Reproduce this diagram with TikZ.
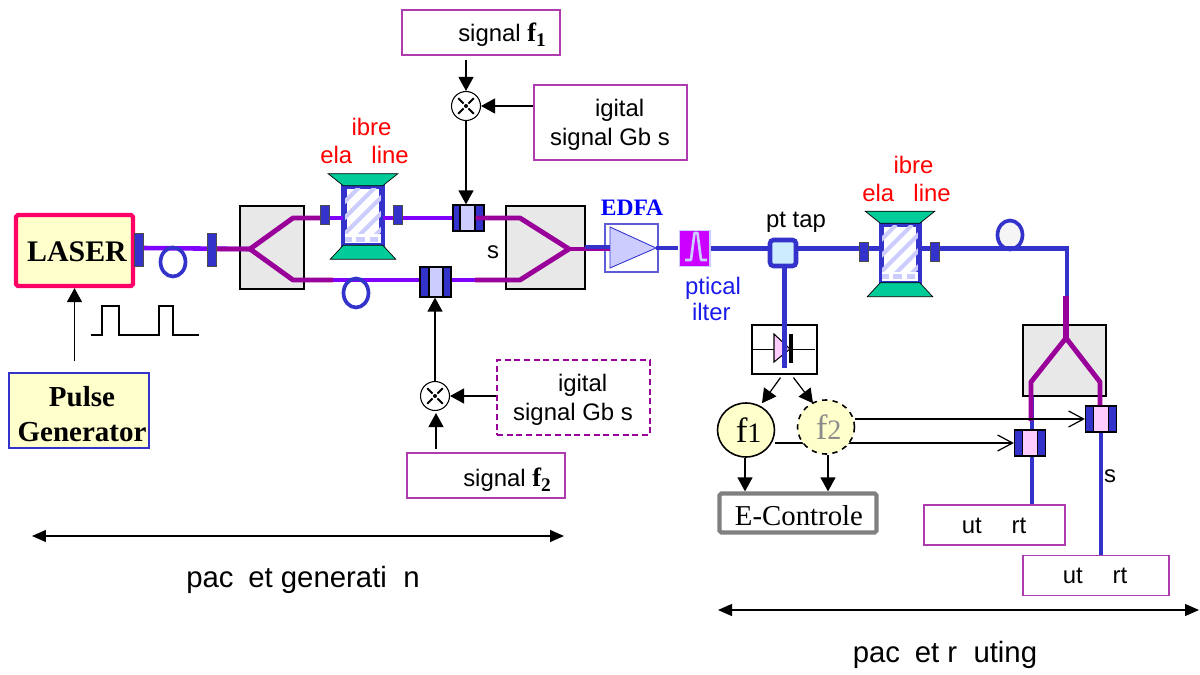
\documentclass[tikz,border=0pt]{standalone}
\usepackage{fontspec}
\setmainfont{Liberation Sans}
\newfontfamily\timesfont{Liberation Serif}
\usetikzlibrary{arrows.meta,shapes.geometric,calc}
\definecolor{FibBlue}{RGB}{51,51,204}
\definecolor{FibViolet}{RGB}{128,0,255}
\definecolor{FibPurple}{RGB}{153,0,153}
\definecolor{BoxYellow}{RGB}{255,255,204}
\definecolor{BoxGray}{RGB}{232,232,232}
\definecolor{ModLilac}{RGB}{204,204,255}
\definecolor{ModPink}{RGB}{255,204,255}
\definecolor{DelayGreen}{RGB}{0,204,153}
\definecolor{BoxEdge}{RGB}{175,60,175}
\definecolor{LaserEdge}{RGB}{255,0,102}
\definecolor{FilterPink}{RGB}{204,0,255}
\definecolor{TapCyan}{RGB}{204,236,255}
\definecolor{LabelBlue}{RGB}{26,26,235}

\begin{document}
\begin{tikzpicture}[x=0.02cm,y=-0.02cm,
  sig/.style={-{Triangle[length=0.28cm,width=0.3cm]},line width=0.7pt},
  barb/.style={-{Straight Barb[length=0.3cm,width=0.32cm]},line width=0.7pt},
  txt/.style={font=\fontsize{13.6}{16.5}\selectfont,inner sep=0,align=center},
  stxt/.style={font=\fontsize{16.4}{19.8}\selectfont\timesfont,inner sep=0,align=center},
  sigbox/.style={draw=BoxEdge,line width=0.8pt,fill=white,inner sep=0,minimum width=3.16cm,minimum height=0.9cm},
  digbox/.style={sigbox,minimum width=3.06cm,minimum height=1.5cm},
  outbox/.style={sigbox,minimum height=0.8cm},
  splitbox/.style={draw=black,line width=0.9pt,fill=BoxGray,inner sep=0},
  connv/.style={draw=black!70,line width=0.4pt,fill=FibBlue,inner sep=0,minimum width=0.18cm,minimum height=0.66cm},
  connw/.style={connv,minimum height=0.38cm},
  modout/.style={draw=black,line width=0.7pt,fill=FibBlue,inner sep=0,minimum width=0.62cm,minimum height=0.52cm},
  modin/.style={draw=black,line width=0.7pt,inner sep=0,minimum width=0.3cm,minimum height=0.52cm},
  mixer/.style={circle,draw=black,line width=0.6pt,fill=white,inner sep=0,minimum size=0.58cm},
  delay/.style={draw=FibBlue,line width=2pt,inner sep=0,minimum width=0.72cm,minimum height=1.12cm},
  freq/.style={ellipse,draw=black,line width=0.9pt,fill=BoxYellow,inner sep=0,minimum width=1.14cm,
               minimum height=1.08cm,font=\fontsize{20}{22}\selectfont\timesfont},
  loopf/.style={ellipse,draw=FibBlue,line width=2.1pt,inner sep=0,minimum width=0.5cm,minimum height=0.58cm},
  fibv/.style={draw=FibViolet,line width=2.6pt},
  fibp/.style={draw=FibPurple,line width=2.8pt,line join=round},
  fibb/.style={draw=FibBlue,line width=2.8pt},
  span/.style={{Triangle[length=0.28cm,width=0.24cm]}-{Triangle[length=0.28cm,width=0.24cm]},line width=0.7pt},
]
\useasboundingbox (0,0) rectangle (1200,675);

\node[splitbox,minimum width=1.28cm,minimum height=1.66cm] (splita) at (272,247.5) {};
\node[splitbox,minimum width=1.58cm,minimum height=1.66cm] (splitb) at (545.5,247.5) {};
\node[splitbox,minimum width=1.66cm,minimum height=1.42cm] (splitc) at (1064.5,360.5) {};

\coordinate (ya) at (250,249);
\coordinate (yau) at (293,218);
\coordinate (yal) at (293,280);
\coordinate (yb) at (569,249);
\coordinate (ybu) at (520,218);
\coordinate (ybl) at (520,280);
\coordinate (yc) at (1066,338);
\coordinate (ycl) at (1031,382);
\coordinate (ycr) at (1100,382);
\coordinate (bend) at (1067,248.5);
\coordinate (edfain) at (610,248);
\coordinate (edfaout) at (656,248);
\coordinate (pdend) at (784.5,368);

\node[draw=FibBlue!80,line width=0.6pt,inner sep=0,minimum width=1.06cm,minimum height=0.96cm] (edfabox) at (631.5,248) {};
\fill[ModLilac,draw=FibBlue,line width=0.5pt] (610,227) -- (edfaout) -- (610,268) -- cycle;
\node[fill=ModLilac,inner sep=0,minimum width=0.64cm,minimum height=0.76cm] (filterbg) at (694.5,248.5) {};
\node[fill=FilterPink,inner sep=0,minimum width=0.58cm,minimum height=0.7cm] (filter) at (694.5,248.5) {};
\draw[ModLilac,line width=1.5pt,line join=round] (685,260) -- (691,260) -- (694.5,233) -- (697.5,233) -- (701,260) -- (707,260);

\node[delay,fill=white] (dla) at (363,215.5) {};
\node[delay,fill=white] (dlb) at (900,253) {};
\foreach \dl in {dla,dlb}{
  \begin{scope}
    \clip (\dl.north west) rectangle (\dl.south east);
    \foreach \dx in {-64,-48,...,64}
      \draw[ModLilac,line width=2.4pt] ($(\dl)+(\dx-28,28)$) -- ++(56,-56);
    \fill[white] ($(\dl.south west)+(0,-11)$) rectangle (\dl.south east);
    \draw[ModLilac,line width=2.6pt,dash pattern=on 5pt off 2.5pt] ($(\dl.south west)+(0,-6)$) -- ($(\dl.south east)+(0,-6)$);
  \end{scope}
  \draw[FibBlue,line width=2pt] (\dl.north west) rectangle (\dl.south east);
  \fill[DelayGreen,draw=black,line width=0.4pt] (\dl.north west) -- ++(-15,-12) -- ($(\dl.north east)+(15,-12)$) -- (\dl.north east) -- cycle;
  \fill[DelayGreen,draw=black,line width=0.4pt] (\dl.south west) -- ++(-13,14) -- ($(\dl.south east)+(13,14)$) -- (\dl.south east) -- cycle;
}

\node[modout] (moda) at (468.5,218) {};
\node[modin,fill=ModLilac] (modai) at (467.5,218) {};
\node[modout,minimum height=0.6cm] (modb) at (435.5,282) {};
\node[modin,fill=ModLilac,minimum width=0.28cm,minimum height=0.6cm] (modbi) at (436,282) {};
\node[modout] (modc) at (1030,443) {};
\node[modin,fill=ModPink] (modci) at (1030,443) {};
\node[modout] (modd) at (1101,419) {};
\node[modin,fill=ModPink] (moddi) at (1101,419) {};

\node[draw=black,line width=0.7pt,fill=white,inner sep=0,minimum width=1.3cm,minimum height=0.98cm] (pdbox) at (784.5,349.5) {};
\draw[line width=0.6pt] (pdbox.west) -- ($(pdbox.east)+(-3,0)$);
\fill[ModPink,draw=black,line width=0.6pt] (774,334) -- (790,349) -- (774,362) -- cycle;

\node[rectangle,rounded corners=2pt,draw=FibBlue,line width=2.6pt,fill=TapCyan,inner sep=0,minimum size=0.52cm] (tap) at (783,253) {};

\node[draw=LaserEdge,line width=2.4pt,rounded corners=1pt,fill=BoxYellow,inner sep=0,minimum width=2.34cm,minimum height=1.42cm] (laser) at (74.5,250.5) {};
\node[draw=FibBlue,line width=0.8pt,fill=BoxYellow,inner sep=0,minimum width=2.8cm,minimum height=1.5cm] (pulsegen) at (79,410.5) {};
\node[stxt,font=\fontsize{17}{20}\selectfont\timesfont\bfseries] (lasert) at (77,252) {LASER};
\node[stxt,font=\fontsize{16.5}{19.8}\selectfont\timesfont\bfseries] (pulset) at (82,414) {Pulse\\Generator};

\coordinate (lasout) at (143,248);
\draw[fibv] (lasout) -- (ya);
\draw[fibp] (208,249) -- (ya) -- (yau) -- (320,218);
\draw[fibp] (ya) -- (yal) -- (333,280);
\draw[fibv] (320,218) -- (dla.west|-yau);
\draw[fibv] (dla.east|-yau) -- (moda.west);
\draw[fibv] (333,280) -- (modb.west|-yal);
\draw[fibv] (modb.east|-yal) -- (ybl);
\draw[fibp] (modai.east) -- (ybu) -- (yb) -- (ybl) -- (475,280);
\draw[fibp] (yb) -- (edfain|-yb);
\draw[draw=FibBlue,line width=2.2pt] (585,247) -- (610,247);
\draw[fibb] (edfaout) -- (filterbg.west|-edfaout);
\draw[fibb] (filterbg.east|-bend) -- (tap.west|-bend);
\draw[fibb] (tap.east|-bend) -- (dlb.west|-bend);
\draw[fibb] (dlb.east|-bend) -- (bend) -- (1067,300);
\draw[fibb] (tap.south-|pdend) -- (pdend);
\draw[line width=2.2pt,black] (791,334) -- (791,363);
\draw[FibPurple,line width=3.2pt] (1066,296) -- (yc);
\draw[fibb] (1032,396) -- (modc.north-|1032,0);
\draw[fibp] (yc) -- (ycl) -- (1031,421);
\draw[fibp] (yc) -- (ycr) -- (modd.north-|ycr);

\node[outbox,minimum width=2.82cm] (outa) at (994.5,525) {};
\node[outbox,minimum width=2.92cm] (outb) at (1096,575.5) {};
\draw[fibb] (modc.south-|1032,0) -- (outa.north-|1032,0);
\draw[fibb] (modd.south) -- (outb.north-|modd);
\node[txt] (outat) at (994,526) {ut\hspace{17pt}rt};
\node[txt] (outbt) at (1095,576) {ut\hspace{17pt}rt};

\node[connv] (conna) at (138.5,249.5) {};
\node[connv] (connb) at (211.5,249.5) {};
\node[connw] (connc) at (325,215) {};
\node[connw] (connd) at (397.5,215) {};
\node[connw] (conne) at (864,251.5) {};
\node[connw] (connf) at (934.5,251.5) {};

\node[loopf] (loopa) at (173,262) {};
\node[loopf] (loopb) at (356,293) {};
\node[loopf,fill=black!4] (loopc) at (1010,235) {};
\draw[fibb] (loopc.south west|-bend) -- (loopc.south east|-bend);

\draw[line width=0.7pt] (91,335) -- (102,335) -- (102,306) -- (119,306) -- (119,335) -- (159,335) -- (159,306) -- (173,306) -- (173,335) -- (199,335);
\draw[sig] (pulsegen.north-|laser) ++(0,-11) -- (laser.south);

\node[sigbox] (sigf1) at (481,32.5) {};
\node[digbox] (diga) at (610.5,122.5) {};
\node[mixer] (mixa) at (466,106) {};
\node[mixer] (mixb) at (435,396) {};
\node[digbox,draw=FibPurple,line width=1.2pt,dash pattern=on 3.5pt off 2pt] (digb) at (573.5,397.5) {};
\node[sigbox] (sigf2) at (486,475.5) {};
\node[txt] (sigf1t) at (502,35) {signal {\timesfont\bfseries\fontsize{15}{16}\selectfont f\raisebox{-2.5pt}{\fontsize{11}{12}\selectfont 1}}};
\node[txt] (digat) at (610,125) {\hspace*{11pt}igital\\signal Gb s};
\node[txt] (digbt) at (573,400) {\hspace*{11pt}igital\\signal Gb s};
\node[txt] (sigf2t) at (507,480) {signal {\timesfont\bfseries\fontsize{15}{16}\selectfont f\raisebox{-2.5pt}{\fontsize{11}{12}\selectfont 2}}};
\foreach \mx in {mixa,mixb}{
  \foreach \ang in {45,135,225,315}
    \draw[line width=1.1pt] ($(\mx)+(\ang:3.5)$) -- ($(\mx)+(\ang:11)$);
  \fill (\mx) circle (0.04cm);
}
\draw[sig] ($(sigf1.south-|mixa)+(0,4)$) -- (mixa.north);
\draw[sig] (diga.west|-mixa) -- (mixa.east);
\draw[sig] (mixa.south) -- (modai.north-|mixa);
\draw[sig] (digb.west|-mixb) -- (mixb.east);
\draw[sig] ($(sigf2.north-|mixb)+(1,-3)$) -- ($(mixb.south)+(1,2)$);
\draw[sig] (mixb.north) -- (modb.south-|mixb);

\node[freq,fill=BoxYellow] (fa) at (746,430) {\hspace*{3pt}f\fontsize{16}{18}\selectfont 1};
\draw[barb] (fa.east|-modc) -- (modc.west);
\node[freq,dashed,text=black!45] (fb) at (826,427) {\hspace*{3pt}f\fontsize{16}{18}\selectfont 2};
\draw[barb] (fb.east|-modd) -- (modd.west);
\node[draw=black!50,line width=2.4pt,rounded corners=1pt,fill=white,inner sep=0,minimum width=3.14cm,minimum height=0.78cm] (ectrl) at (798,513) {};
\node[stxt] (ectrlt) at (799,516) {E-Controle};
\draw[sig] (fa.south-|745,0) -- (ectrl.north-|745,0);
\draw[sig] (fb.south-|828,0) -- (ectrl.north-|828,0);
\draw[sig] ($(pdbox.south)+(-4,3)$) -- ($(fa.north)+(16,1)$);
\draw[sig] ($(pdbox.south)+(9,3)$) -- ($(fb.north)+(-13,4)$);

\node[txt,text=red] (fdla) at (364.5,141) {\hspace*{8pt}ibre\\[-1pt]ela\hspace{11pt}line};
\node[txt,text=red] (fdlb) at (906.5,179) {\hspace*{8pt}ibre\\[-1pt]ela\hspace{11pt}line};
\node[txt] (slabel) at (493,252) {s};
\node[txt] (slabelb) at (1110,476) {s};
\node[font=\fontsize{13.4}{16}\selectfont\timesfont\bfseries,text=blue,inner sep=0] (edfat) at (632,208) {EDFA};
\node[txt] (taplabel) at (796,222) {pt tap};
\node[txt,text=LabelBlue] (filtlabel) at (713,299) {ptical\\[-1.5pt]ilter\hspace*{2pt}};

\node[txt,font=\fontsize{16.7}{20}\selectfont] (gentxt) at (303,580) {pac\phantom{k}et generati\phantom{o}n};
\node[txt,font=\fontsize{16.7}{20}\selectfont] (routxt) at (945,655) {pac\phantom{k}et r\phantom{o}uting};
\coordinate (gena) at (32,536);
\coordinate (genb) at (564,536);
\coordinate (roua) at (718,610);
\coordinate (roub) at (1199,610);
\draw[span] (gena) -- (genb);
\draw[span] (roua) -- (roub);
\end{tikzpicture}
\end{document}
